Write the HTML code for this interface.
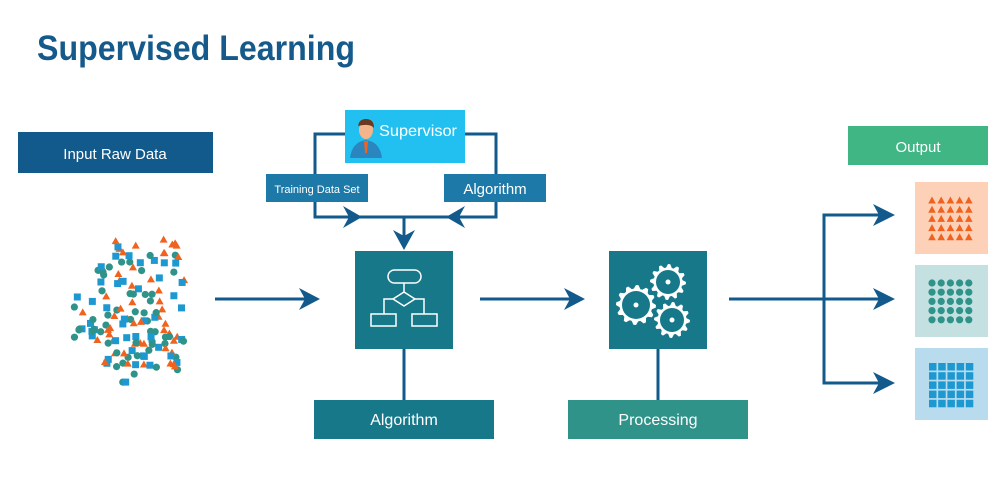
<!DOCTYPE html>
<html><head><meta charset="utf-8"><style>
html,body{margin:0;padding:0;background:#fff;}
svg{display:block;}
text{font-family:"Liberation Sans",sans-serif;}
</style></head><body>
<svg id="s" width="1000" height="483" viewBox="0 0 1000 483" xmlns="http://www.w3.org/2000/svg">
<rect width="1000" height="483" fill="#fff"/>
<text x="37" y="60" font-size="35" font-weight="bold" fill="#155a8a" textLength="318" lengthAdjust="spacingAndGlyphs">Supervised Learning</text>

<rect x="18" y="132" width="195" height="41" fill="#135a8c"/>
<text x="115" y="159" font-size="15" fill="#fff" text-anchor="middle">Input Raw Data</text>

<g stroke="#135a8c" stroke-width="3" fill="none">
<polyline points="345,134 315,134 315,217 496,217 496,134 465,134"/>
<line x1="404" y1="217" x2="404" y2="240"/>
<line x1="404" y1="349" x2="404" y2="400"/>
<line x1="658" y1="349" x2="658" y2="400"/>
<line x1="215" y1="299" x2="310" y2="299"/>
<line x1="480" y1="299" x2="575" y2="299"/>
<line x1="729" y1="299" x2="885" y2="299"/>
<polyline points="885,215 824,215 824,383 885,383"/>
</g>
<g fill="#135a8c">
<polygon points="343,206 362,217 343,228 349,217"/>
<polygon points="465,206 446,217 465,228 459,217"/>
<polygon points="393,230 404,250 415,230 404,236"/>
<polygon points="299,288 320,299 299,310 305,299"/>
<polygon points="564,288 585,299 564,310 570,299"/>
<polygon points="873,204 895,215 873,226 879,215"/>
<polygon points="873,288 895,299 873,310 879,299"/>
<polygon points="873,372 895,383 873,394 879,383"/>
</g>

<rect x="345" y="110" width="120" height="53" fill="#22c0f0"/>
<path d="M350,158 Q352,142 366,140 Q380,142 382,158 Z" fill="#2b86c0"/>
<polygon points="364,141 368,141 367,153 365,153" fill="#f0631e"/>
<ellipse cx="366" cy="130" rx="7" ry="9" fill="#f5b58c"/>
<path d="M358,128 Q358,119 366,119 Q374,119 374,128 Q370,123 358,126 Z" fill="#6b3a1e"/>
<text x="379" y="136" font-size="16" fill="#fff" textLength="78" lengthAdjust="spacingAndGlyphs">Supervisor</text>

<rect x="266" y="174" width="102" height="28" fill="#1d79a8"/>
<text x="317" y="193" font-size="11" fill="#fff" text-anchor="middle">Training Data Set</text>
<rect x="444" y="174" width="102" height="28" fill="#1d79a8"/>
<text x="495" y="194" font-size="15" fill="#fff" text-anchor="middle">Algorithm</text>

<rect x="355" y="251" width="98" height="98" fill="#17788a"/>
<g stroke="#fff" stroke-width="1.5" fill="none">
<rect x="388" y="270" width="33" height="13" rx="6.5"/>
<line x1="404" y1="283" x2="404" y2="292"/>
<polygon points="404,292 415,299 404,306 393,299"/>
<polyline points="393,299 384,299 384,314"/>
<polyline points="415,299 424,299 424,314"/>
<rect x="371" y="314" width="25" height="12"/>
<rect x="412" y="314" width="25" height="12"/>
</g>
<rect x="314" y="400" width="180" height="39" fill="#17788a"/>
<text x="404" y="425" font-size="16" fill="#fff" text-anchor="middle">Algorithm</text>

<rect x="609" y="251" width="98" height="98" fill="#17788a"/>
<g id="gears"></g>
<rect x="568" y="400" width="180" height="39" fill="#2f938a"/>
<text x="658" y="425" font-size="16" fill="#fff" text-anchor="middle">Processing</text>

<rect x="848" y="126" width="140" height="39" fill="#40b684"/>
<text x="918" y="152" font-size="15" fill="#fff" text-anchor="middle">Output</text>
<rect x="915" y="182" width="73" height="72" fill="#fdd0b8"/>
<rect x="915" y="265" width="73" height="72" fill="#c5e0e0"/>
<rect x="915" y="348" width="73" height="72" fill="#b8dcee"/>
<g id="grid"></g>
<g id="scatter"></g>
</svg>
<script>
var NS="http://www.w3.org/2000/svg";
function el(p,t,a){var e=document.createElementNS(NS,t);for(var k in a)e.setAttribute(k,a[k]);p.appendChild(e);return e;}
var g=document.getElementById('grid');
for(var r=0;r<5;r++)for(var c=0;c<5;c++){
 var x=932+c*9.2,y=200+r*9.2;
 el(g,'polygon',{points:(x)+','+(y-3.5)+' '+(x+3.8)+','+(y+3.5)+' '+(x-3.8)+','+(y+3.5),fill:'#f0631e'});
 el(g,'circle',{cx:932+c*9.2,cy:283+r*9.2,r:3.6,fill:'#2f938a'});
 el(g,'rect',{x:929+c*9.2,y:363+r*9.2,width:7.5,height:7.5,fill:'#1e98d0'});
}
var gg=document.getElementById('gears');
function gear(cx,cy,R){
 var d='',n=12;
 for(var i=0;i<n*4;i++){var a=i/(n*4)*Math.PI*2;var rr=(i%4<2)?R:R-3.5;d+=(i?'L':'M')+(cx+rr*Math.cos(a)).toFixed(1)+','+(cy+rr*Math.sin(a)).toFixed(1);}
 el(gg,'path',{d:d+'Z',fill:'#fff'});
 el(gg,'circle',{cx:cx,cy:cy,r:R-6,fill:'#17788a'});
 el(gg,'circle',{cx:cx,cy:cy,r:2.5,fill:'#fff'});
}
gear(636,305,20);gear(668,282,18);gear(672,320,18);
var s=document.getElementById('scatter');
var seed=7;function rnd(){seed=(seed*16807)%2147483647;return seed/2147483647;}
var cnt=0;
while(cnt<150){
 var x=68+rnd()*120,y=238+rnd()*145;
 var ok=false;
 if(y<265&&x>100&&x<180)ok=true;
 else if(y>=265&&y<295&&x>97&&x<185)ok=true;
 else if(y>=295&&y<345&&x>70&&x<185)ok=true;
 else if(y>=345&&y<370&&x>100&&x<178)ok=true;
 else if(y>=370&&x>108&&x<140)ok=true;
 if(!ok)continue;cnt++;
 var t=Math.floor(rnd()*3);
 if(t==0)el(s,'rect',{x:x-3.5,y:y-3.5,width:7,height:7,fill:'#1e98d0'});
 else if(t==1)el(s,'circle',{cx:x,cy:y,r:3.6,fill:'#2f938a'});
 else el(s,'polygon',{points:x+','+(y-4)+' '+(x+4)+','+(y+3)+' '+(x-4)+','+(y+3),fill:'#f0631e'});
}
</script>
</body></html>
